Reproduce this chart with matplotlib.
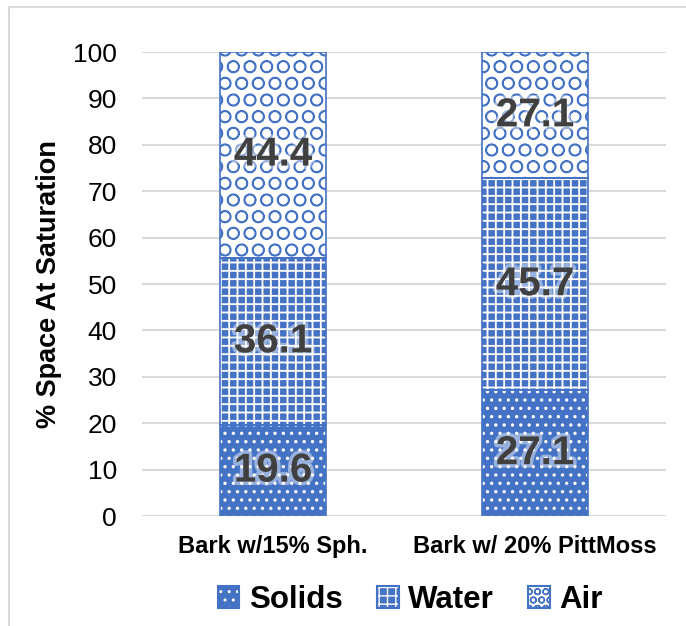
import matplotlib
matplotlib.use('Agg')
import matplotlib.pyplot as plt
import matplotlib.patheffects as pe
from matplotlib.patches import Patch, Rectangle
import numpy as np

plt.rcParams['font.family'] = ['Liberation Sans', 'DejaVu Sans']

categories = ['Bark w/15% Sph.', 'Bark w/ 20% PittMoss']
series = ['Solids', 'Water', 'Air']
solids = [19.6, 27.1]
water = [36.1, 45.7]
air = [44.4, 27.1]
yticks = [0, 10, 20, 30, 40, 50, 60, 70, 80, 90, 100]

blue = '#4472C4'
styles = {
    'Solids': dict(face=blue, hatch_col='white', hatch='..', leg_hatch='..', hlw=1.2),
    'Water': dict(face=blue, hatch_col='white', hatch='++', leg_hatch='++', hlw=1.3),
    'Air': dict(face='white', hatch_col=blue, hatch='O', leg_hatch='OO', hlw=1.1),
}


def set_hlw(patch, lw):
    if hasattr(patch, 'set_hatch_linewidth'):
        patch.set_hatch_linewidth(lw)


fig = plt.figure(figsize=(6.86, 6.26), dpi=100)
# outer chart frame (partly cut off in the reference)
fig.patches.append(Rectangle((9 / 686, -0.1), 1.2, 1.1 - 7 / 626, transform=fig.transFigure,
                             fill=False, edgecolor='#D9D9D9', linewidth=1.5))
ax = fig.add_axes([142 / 686, 110 / 626, 524 / 686, 464 / 626])

x = np.arange(len(categories))
width = 0.405
bottom = np.zeros(len(categories))
for name, vals in zip(series, [solids, water, air]):
    st = styles[name]
    with plt.rc_context({'hatch.linewidth': st['hlw']}):
        bars = ax.bar(x, vals, width, bottom=bottom, color=st['face'], edgecolor=st['hatch_col'],
                      hatch=st['hatch'], linewidth=0, zorder=2)
    for b in bars:
        set_hlw(b, st['hlw'])
    ax.bar(x, vals, width, bottom=bottom, fill=False, edgecolor=blue, linewidth=1.2, zorder=3)
    for xi, b, v in zip(x, bottom, vals):
        ax.text(xi, b + v / 2, f'{v:.1f}', ha='center', va='center', fontsize=29, fontweight='bold',
                color='#404040', zorder=4,
                path_effects=[pe.withStroke(linewidth=5, foreground='white', alpha=0.45)])
    bottom = bottom + np.array(vals)

ax.set_xlim(-0.5, 1.5)
ax.set_ylim(0, 100)
ax.set_yticks(yticks)
ax.set_xticks(x)
ax.set_xticklabels(categories, fontsize=17, fontweight='bold')
ax.tick_params(axis='y', labelsize=19, length=0, pad=18)
ax.tick_params(axis='x', length=0, pad=14)
ax.yaxis.grid(True, color='#D9D9D9', linewidth=1.5, zorder=0)
ax.set_axisbelow(True)
for s in ax.spines.values():
    s.set_visible(False)
ax.set_ylabel('% Space At Saturation', fontsize=19.5, fontweight='bold', labelpad=8)

handles = []
for n in series:
    st = styles[n]
    with plt.rc_context({'hatch.linewidth': st['hlw']}):
        h = Patch(facecolor=st['face'], edgecolor=st['hatch_col'], hatch=st['leg_hatch'], linewidth=0)
    set_hlw(h, st['hlw'])
    outline = Patch(fill=False, edgecolor=blue, linewidth=1.5)
    handles.append((h, outline))
leg = fig.legend(handles, series, loc='center', bbox_to_anchor=(0.598, 1 - 600 / 626), ncol=3,
                 frameon=False, prop={'size': 22.5, 'weight': 'bold'}, handlelength=0.7, handleheight=0.7,
                 handletextpad=0.3, columnspacing=1.1)

fig.savefig('out.png', dpi=100)
